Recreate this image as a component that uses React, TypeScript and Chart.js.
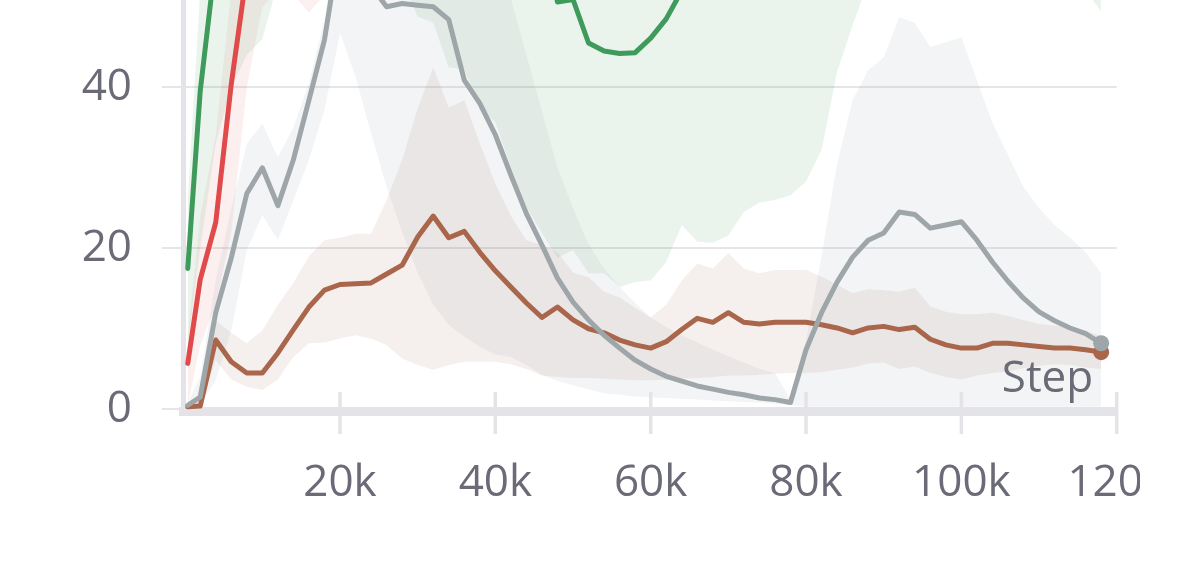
import React, { useEffect, useRef } from 'react';
import { Chart, registerables } from 'chart.js';

Chart.register(...registerables);

// ---- data ----
const steps = [
  400, 2000, 4000, 6000, 8000, 10000, 12000, 14000, 16000, 18000,
  20000, 22000, 24000, 26000, 28000, 30000, 32000, 34000, 36000, 38000,
  40000, 42000, 44000, 46000, 48000, 50000, 52000, 54000, 56000, 58000,
  60000, 62000, 64000, 66000, 68000, 70000, 72000, 74000, 76000, 78000,
  80000, 82000, 84000, 86000, 88000, 90000, 92000, 94000, 96000, 98000,
  100000, 102000, 104000, 106000, 108000, 110000, 112000, 114000, 116000, 118000,
];

const xTicks = [20000, 40000, 60000, 80000, 100000, 120000];
const yTicks = [0, 20, 40];

const grayMean = [
  0.5, 1.5, 12.0, 18.8, 26.8, 30.0, 25.3, 31.0, 38.4, 45.9,
  58, 57, 52.6, 50.0, 50.4, 50.2, 50.0, 48.4, 40.9, 38.0,
  34.1, 29.1, 24.3, 20.4, 16.3, 13.3, 11.1, 9.2, 7.6, 6.1,
  5.0, 4.1, 3.5, 2.9, 2.5, 2.1, 1.8, 1.4, 1.2, 0.85,
  7.4, 12.0, 15.8, 18.9, 21.0, 21.9, 24.5, 24.2, 22.5, 22.9,
  23.3, 21.0, 18.3, 15.9, 13.8, 12.1, 11.0, 10.1, 9.4, 8.2,
];
const grayMax = [
  0.8, 4, 16, 25, 33, 35.5, 31.3, 35, 40.5, 48.5,
  60, 60, 60, 60, 60, 60, 60, 60, 60, 60,
  60, 51, 44, 37, 30, 25, 20.5, 17.5, 15.2, 13.2,
  11.4, 10.2, 9.2, 8.3, 7.4, 6.6, 5.8, 5.0, 4.5, 1.2,
  8.5, 19, 30.5, 38.4, 42.1, 43.7, 48.7, 48.0, 45.0, 45.6,
  46.2, 40.9, 35.6, 31.6, 27.6, 25.0, 22.9, 21.3, 19.5, 16.9,
];
const grayMin = [
  0, 0.5, 3.6, 9.8, 19.8, 24.1, 21.0, 26.0, 31.0, 37.2,
  46.7, 41.3, 34.3, 27.6, 22, 17, 13, 10.5, 9.0, 7.8,
  6.8, 6.5, 5.5, 4.3, 3.5, 3.0, 2.5, 2.0, 1.8, 1.6,
  1.5, 1.4, 1.3, 1.2, 1.1, 1.0, 0.9, 0.8, 0.7, 0.5,
  0.3, 0.3, 0.3, 0.3, 0.3, 0.3, 0.3, 0.3, 0.3, 0.3,
  0.3, 0.3, 0.3, 0.3, 0.3, 0.3, 0.3, 0.3, 0.3, 0.3,
];

const brownMean = [
  0.3, 0.4, 8.6, 5.9, 4.5, 4.5, 7.0, 9.9, 12.7, 14.8,
  15.5, 15.6, 15.7, 16.8, 17.9, 21.4, 24.0, 21.3, 22.1, 19.5,
  17.2, 15.2, 13.2, 11.4, 12.7, 11.1, 10.0, 9.5, 8.6, 8.0,
  7.6, 8.4, 9.9, 11.3, 10.8, 12.0, 10.8, 10.6, 10.8, 10.8,
  10.8, 10.5, 10.1, 9.5, 10.1, 10.3, 9.9, 10.2, 8.7, 8.0,
  7.6, 7.6, 8.2, 8.2, 8.0, 7.8, 7.6, 7.6, 7.4, 7.1,
];
const brownMax = [
  0.5, 1, 11, 9.5, 8.2, 9.8, 13, 15.7, 19, 21,
  21.3, 21.8, 21.8, 26, 31, 37.4, 42.5, 37.5, 38.4, 33,
  28, 24, 21, 20.4, 19.5, 17.0, 16.4, 14.6, 13.9, 12.6,
  11.4, 13.0, 16.0, 18.1, 17.5, 19.4, 17.5, 16.9, 17.3, 17.3,
  17.3, 16.5, 15.5, 14.4, 14.9, 14.8, 14.6, 15.1, 12.8, 12.1,
  11.8, 11.8, 12.0, 11.6, 11.1, 10.6, 10.4, 10.2, 9.8, 9.1,
];
const brownMin = [
  0, 0.2, 6.1, 3.7, 2.8, 2.4, 3.7, 6.5, 8.2, 8.3,
  8.8, 9.2, 8.8, 8.0, 6.3, 5.5, 4.9, 5.5, 5.9, 5.9,
  5.9, 5.6, 5.0, 4.2, 4.0, 3.9, 3.9, 3.8, 3.7, 3.6,
  3.6, 3.7, 3.8, 3.9, 4.0, 4.2, 4.2, 4.3, 4.4, 4.5,
  4.5, 4.6, 4.9, 5.2, 5.7, 5.8, 5.0, 5.3, 4.5, 4.0,
  3.7, 4.2, 4.5, 4.7, 5.1, 5.4, 5.6, 5.5, 5.2, 5.0,
];

const greenMean = [
  17.5, 39.5, 56, 62, 66, 68, 70, 71, 72, 73,
  74, 74, 73, 72, 71, 70, 68, 67, 66, 65,
  64, 63, 62, 60, 50.6, 50.9, 45.5, 44.5, 44.2, 44.3,
  46.1, 48.5, 52, 55, 57, 58, 59, 60, 61, 62,
  62, 63, 63, 64, 64, 64, 65, 65, 65, 65,
  65, 65, 65, 64, 64, 64, 64, 63, 63, 63,
];
const greenMax = [
  26, 52, 70, 75, 78, 80, 82, 83, 84, 85,
  86, 86, 85, 84, 83, 82, 80, 79, 78, 77,
  76, 75, 74, 72, 66, 66, 64, 63, 63, 63,
  64, 66, 68, 70, 72, 73, 74, 75, 76, 77,
  77, 78, 78, 79, 79, 79, 80, 80, 80, 80,
  80, 80, 80, 79, 79, 79, 79, 78, 78, 78,
];
const greenMin = [
  8, 20, 33, 40, 44, 46, 53, 56, 57, 57,
  57, 57, 56, 55, 53, 48.8, 48.0, 42.5, 42.2, 37.2,
  35.7, 30.1, 25.1, 21.9, 18.8, 19.8, 16.9, 16.9, 15.2, 15.8,
  16.0, 18.3, 22.9, 20.8, 20.7, 21.6, 24.5, 25.7, 26.0, 26.6,
  28.3, 32.2, 41.9, 47.7, 53, 55, 56, 56, 57, 57,
  57, 57, 56, 56, 55, 55, 54, 53, 52, 49.4,
];

const redMean = [
  5.7, 16.1, 23.2, 40.4, 54.3, 62, 66, 69, 71, 72,
  73, 74, 74, 75, 75, 76, 76, 76, 77, 77,
  77, 77, 78, 78, 78, 78, 78, 79, 79, 79,
  79, 79, 79, 79, 80, 80, 80, 80, 80, 80,
  80, 80, 80, 80, 80, 81, 81, 81, 81, 81,
  81, 81, 81, 81, 81, 81, 81, 81, 81, 81,
];
const redMax = [
  9, 24, 34, 52, 65, 72, 76, 78, 80, 81,
  82, 83, 83, 84, 84, 85, 85, 85, 86, 86,
  86, 86, 87, 87, 87, 87, 87, 88, 88, 88,
  88, 88, 88, 88, 89, 89, 89, 89, 89, 89,
  89, 89, 89, 89, 89, 90, 90, 90, 90, 90,
  90, 90, 90, 90, 90, 90, 90, 90, 90, 90,
];
const redMin = [
  0.5, 8, 13, 22, 40, 50, 52, 51.5, 49.3, 51.5,
  58, 60, 62, 63, 64, 65, 66, 66, 67, 67,
  67, 68, 68, 68, 69, 69, 69, 69, 70, 70,
  70, 70, 70, 70, 71, 71, 71, 71, 71, 71,
  71, 71, 71, 71, 71, 72, 72, 72, 72, 72,
  72, 72, 72, 72, 72, 72, 72, 72, 72, 72,
];

// ---- styles ----
const FONT = '"Open Sans", "Noto Sans", sans-serif';
const TEXT = '#6b6b78';
const GRID = '#e5e5e8';
const AXIS = '#e4e4e8';
const GRAY = '#9ea6a9';
const BROWN = '#a9664b';
const GREEN = '#3f9b5c';
const RED = '#e04a4a';

const CANVAS_W = 1250;
const CANVAS_H = 568;
const AREA_LEFT = 183.5;
const AREA_RIGHT = 1116.7;
const AREA_BOTTOM = 411.7;

const pts = (arr: number[]) => arr.map((y, i) => ({ x: steps[i], y }));

function band(upper: number[], lower: number[], color: string) {
  return [
    {
      data: pts(upper),
      fill: '+1',
      backgroundColor: color,
      borderColor: 'transparent',
      borderWidth: 0,
      pointRadius: 0,
      order: 10,
    },
    {
      data: pts(lower),
      fill: false,
      backgroundColor: 'transparent',
      borderColor: 'transparent',
      borderWidth: 0,
      pointRadius: 0,
      order: 10,
    },
  ];
}

function line(values: number[], color: string, order: number, dot: boolean) {
  const last = values.length - 1;
  return {
    data: pts(values),
    fill: false,
    borderColor: color,
    backgroundColor: color,
    borderWidth: 5,
    borderJoinStyle: 'round',
    borderCapStyle: 'round',
    tension: 0,
    pointRadius: (c: any) => (dot && c.dataIndex === last ? 8 : 0),
    pointHoverRadius: 0,
    pointBorderWidth: 0,
    pointBackgroundColor: color,
    order,
  };
}

const decorPlugin = {
  id: 'decor',
  afterDatasetsDraw(chart: any) {
    const { ctx, chartArea } = chart;
    ctx.save();
    ctx.font = `44px ${FONT}`;
    ctx.fillStyle = TEXT;
    ctx.textAlign = 'right';
    ctx.textBaseline = 'alphabetic';
    ctx.fillText('Step', chartArea.right - 23.5, chartArea.bottom - 19.7);
    ctx.restore();
  },
  afterDraw(chart: any) {
    const { ctx, chartArea, scales } = chart;
    ctx.save();
    ctx.strokeStyle = AXIS;
    ctx.lineWidth = 3.5;
    xTicks.forEach((v) => {
      const x = scales.x.getPixelForValue(v);
      ctx.beginPath();
      ctx.moveTo(x, chartArea.bottom - 19.7);
      ctx.lineTo(x, chartArea.bottom + 22.3);
      ctx.stroke();
    });
    ctx.restore();
  },
};

export default function App() {
  const ref = useRef<HTMLCanvasElement>(null);

  useEffect(() => {
    if (!ref.current) return;
    const chart = new Chart(ref.current, {
      type: 'line',
      data: {
        datasets: [
          line(grayMean, GRAY, 0, true),
          line(brownMean, BROWN, 1, true),
          line(redMean, RED, 2, false),
          line(greenMean, GREEN, 3, false),
          ...band(grayMax, grayMin, 'rgba(158,166,169,0.12)'),
          ...band(brownMax, brownMin, 'rgba(160,112,90,0.11)'),
          ...band(greenMax, greenMin, 'rgba(63,155,92,0.11)'),
          ...band(redMax, redMin, 'rgba(224,74,74,0.09)'),
        ] as any,
      },
      options: {
        responsive: false,
        animation: false,
        events: [],
        layout: {
          autoPadding: false,
          padding: { left: 0, top: 0, bottom: 0, right: CANVAS_W - AREA_RIGHT },
        },
        plugins: {
          legend: { display: false },
          tooltip: { enabled: false },
          title: { display: false },
        },
        scales: {
          x: {
            type: 'linear',
            min: -150,
            max: 120000,
            afterBuildTicks: (s: any) => {
              s.ticks = xTicks.map((v) => ({ value: v }));
            },
            afterFit: (s: any) => {
              s.height = CANVAS_H - AREA_BOTTOM;
              s.paddingLeft = 0;
              s.paddingRight = 0;
            },
            grid: { display: true, drawOnChartArea: false, drawTicks: false, color: 'transparent' },
            border: { display: true, color: AXIS, width: 9 },
            ticks: {
              font: { size: 44, family: FONT },
              color: TEXT,
              padding: 45,
              maxRotation: 0,
              autoSkip: false,
              callback: (v: any) => `${Number(v) / 1000}k`,
            },
          },
          y: {
            type: 'linear',
            min: -0.3,
            max: 50.84,
            afterBuildTicks: (s: any) => {
              s.ticks = yTicks.map((v) => ({ value: v }));
            },
            afterFit: (s: any) => {
              s.width = AREA_LEFT;
              s.paddingTop = 0;
              s.paddingBottom = 0;
            },
            grid: { color: GRID, lineWidth: 2, tickLength: 21.5, drawTicks: true },
            border: { display: true, color: AXIS, width: 5 },
            ticks: {
              font: { size: 44, family: FONT },
              color: TEXT,
              padding: 30,
              callback: (v: any) => String(v),
            },
          },
        },
      } as any,
      plugins: [decorPlugin],
    });

    const fonts = (document as any).fonts;
    if (fonts && fonts.load) {
      fonts.load(`44px "Open Sans"`).then(() => chart.update()).catch(() => {});
    }
    return () => chart.destroy();
  }, []);

  return (
    <div
      style={{
        position: 'fixed',
        left: 0,
        top: 0,
        width: 1140,
        height: CANVAS_H,
        overflow: 'hidden',
        background: '#ffffff',
      }}
    >
      <canvas
        ref={ref}
        width={CANVAS_W}
        height={CANVAS_H}
        style={{ display: 'block', width: CANVAS_W, height: CANVAS_H }}
      />
    </div>
  );
}
